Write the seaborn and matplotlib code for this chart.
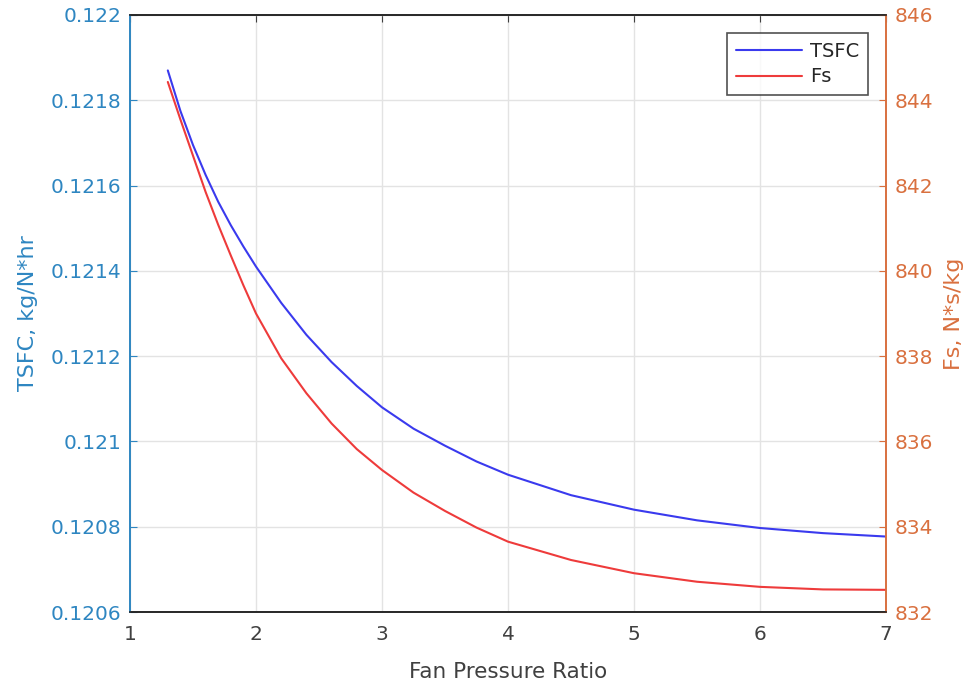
import matplotlib
matplotlib.use('Agg')
import matplotlib.pyplot as plt
import seaborn as sns
import pandas as pd

# values
fpr_tsfc = [1.3, 1.4, 1.5, 1.6, 1.7, 1.8, 1.9, 2.0, 2.2, 2.4, 2.6, 2.8, 3.0, 3.25, 3.5,
            3.75, 4.0, 4.5, 5.0, 5.5, 6.0, 6.5, 7.0]
tsfc = [0.12187, 0.121775, 0.121695, 0.121625, 0.121562, 0.121507, 0.121457, 0.12141,
        0.121325, 0.12125, 0.121186, 0.12113, 0.12108, 0.12103, 0.12099, 0.120953,
        0.120922, 0.120874, 0.12084, 0.120815, 0.120797, 0.120785, 0.120777]

fpr_fs = [1.3, 1.4, 1.5, 1.6, 1.7, 1.8, 1.9, 2.0, 2.2, 2.4, 2.6, 2.8, 3.0, 3.25, 3.5,
          3.75, 4.0, 4.5, 5.0, 5.5, 6.0, 6.5, 7.0]
fs = [844.43, 843.55, 842.7, 841.85, 841.08, 840.36, 839.66, 839.0, 837.95, 837.13,
      836.42, 835.82, 835.33, 834.8, 834.37, 833.98, 833.65, 833.22, 832.91, 832.71,
      832.59, 832.53, 832.52]

x_ticks = [1, 2, 3, 4, 5, 6, 7]
left_ticks = [0.1206, 0.1208, 0.121, 0.1212, 0.1214, 0.1216, 0.1218, 0.122]
left_labels = ['0.1206', '0.1208', '0.121', '0.1212', '0.1214', '0.1216', '0.1218', '0.122']
right_ticks = [832, 834, 836, 838, 840, 842, 844, 846]

left_col = '#2E86C1'
right_col = '#D9703F'
dark = '#404040'

sns.set_style('white')
plt.rcParams['font.family'] = ['DejaVu Sans']

df1 = pd.DataFrame({'FPR': fpr_tsfc, 'TSFC': tsfc})
df2 = pd.DataFrame({'FPR': fpr_fs, 'Fs': fs})

fig = plt.figure(figsize=(9.79, 6.91), dpi=100)
ax = fig.add_axes([0.1328, 0.1143, 0.7722, 0.8640])
ax2 = ax.twinx()

sns.lineplot(data=df1, x='FPR', y='TSFC', ax=ax, color='#3A3AEE', lw=1.5, label='TSFC', legend=False)
sns.lineplot(data=df2, x='FPR', y='Fs', ax=ax2, color='#EE3B3B', lw=1.5, label='Fs', legend=False)

ax.set_xlim(1, 7)
ax.set_ylim(0.1206, 0.122)
ax2.set_ylim(832, 846)
ax.set_xticks(x_ticks)
ax.set_yticks(left_ticks)
ax.set_yticklabels(left_labels)
ax2.set_yticks(right_ticks)

ax.grid(True, color='#E3E3E3', lw=1)
ax.set_axisbelow(True)

ax.set_xlabel('Fan Pressure Ratio', fontsize=15.5, color=dark, labelpad=13)
ax.set_ylabel('TSFC, kg/N*hr', fontsize=16, color=left_col, labelpad=9)
ax2.set_ylabel('Fs, N*s/kg', fontsize=16, color=right_col, labelpad=8)

ax.tick_params(axis='x', direction='in', top=True, length=5, labelsize=14.5, colors=dark, pad=9)
ax.tick_params(axis='y', direction='in', length=5, labelsize=14.5, colors=left_col, pad=6)
ax2.tick_params(axis='y', direction='in', length=5, labelsize=14.5, colors=right_col, pad=6)

for a in (ax, ax2):
    a.spines['top'].set_color('#262626')
    a.spines['bottom'].set_color('#262626')
    a.spines['left'].set_color(left_col)
    a.spines['right'].set_color(right_col)
    for s in a.spines.values():
        s.set_linewidth(1.2)

h1, l1 = ax.get_legend_handles_labels()
h2, l2 = ax2.get_legend_handles_labels()
leg = ax2.legend(h1 + h2, l1 + l2, loc='upper right', fontsize=14, frameon=True,
                 fancybox=False, edgecolor='#262626', handlelength=3.4,
                 bbox_to_anchor=(0.976, 0.970), borderaxespad=0, borderpad=0.45,
                 labelspacing=0.35, handletextpad=0.4)
leg.get_frame().set_linewidth(1.2)

fig.savefig('out.png', dpi=100)
